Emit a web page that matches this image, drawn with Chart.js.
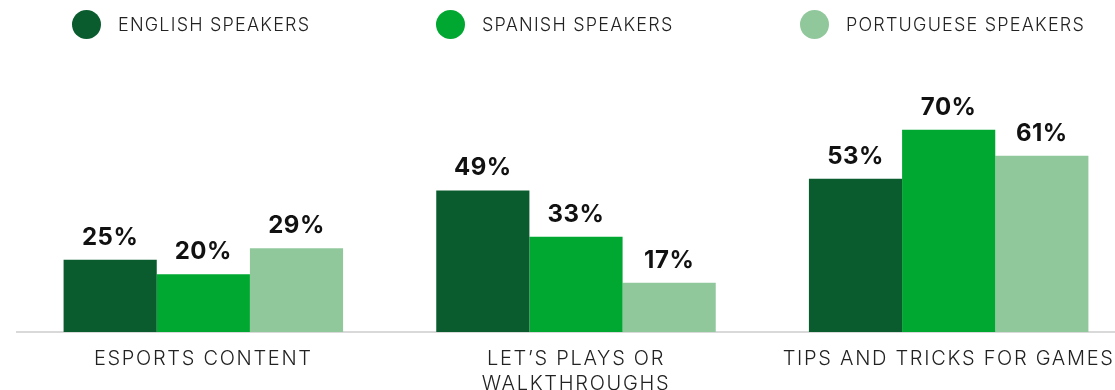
<!DOCTYPE html>
<html>
<head>
<meta charset="utf-8">
<script src="https://cdn.jsdelivr.net/npm/chart.js@4.4.1/dist/chart.umd.min.js"></script>
<style>
  html, body { margin: 0; padding: 0; background: #fff; overflow: hidden; }
  #wrap { position: relative; width: 1135px; height: 390px; }
  #legend { position: absolute; left: 72px; top: 10px; display: flex; z-index: 2; }
  .item { width: 364px; height: 29px; display: flex; align-items: center; }
  .dot { width: 29px; height: 29px; border-radius: 50%; margin-right: 17px; flex: none; }
  .item span { font: 300 18px 'Inter', sans-serif; letter-spacing: 1.2px; color: #222; white-space: nowrap; }
</style>
</head>
<body>
<div id="wrap">
  <div id="legend"></div>
  <canvas id="chart" width="1135" height="390"></canvas>
</div>
<script>
const categories = ['ESPORTS CONTENT', ['LET\u2019S PLAYS OR', 'WALKTHROUGHS'], 'TIPS AND TRICKS FOR GAMES'];
const seriesNames = ['ENGLISH SPEAKERS', 'SPANISH SPEAKERS', 'PORTUGUESE SPEAKERS'];
const english = [25, 49, 53];
const spanish = [20, 33, 70];
const portuguese = [29, 17, 61];
const colors = ['#0a5c2f', '#00a832', '#90c89c'];

const seriesValues = [english, spanish, portuguese];

// legend built from the same series names/colours
const legendBox = document.getElementById('legend');
seriesNames.forEach((name, i) => {
    const item = document.createElement('div');
    item.className = 'item';
    const dot = document.createElement('div');
    dot.className = 'dot';
    dot.style.background = colors[i];
    const label = document.createElement('span');
    label.textContent = name;
    item.appendChild(dot);
    item.appendChild(label);
    legendBox.appendChild(item);
});

// wider tracking for the category labels (the original font is wide)
const tracking = {
    id: 'tracking',
    beforeDraw(chart) {
        chart.ctx.letterSpacing = '1.7px';
    }
};

// percentage labels above each bar
const valueLabels = {
    id: 'valueLabels',
    afterDatasetsDraw(chart) {
        const ctx = chart.ctx;
        ctx.save();
        ctx.letterSpacing = '0.5px';
        ctx.font = 'bold 24px "Inter", sans-serif';
        ctx.fillStyle = '#111';
        ctx.textAlign = 'center';
        ctx.textBaseline = 'alphabetic';
        chart.data.datasets.forEach((ds, i) => {
            chart.getDatasetMeta(i).data.forEach((bar, j) => {
                ctx.fillText(ds.data[j] + '%', bar.x, bar.y - 15);
            });
        });
        ctx.restore();
    }
};

const ctx = document.getElementById('chart').getContext('2d');
new Chart(ctx, {
    type: 'bar',
    data: {
        labels: categories,
        datasets: seriesNames.map((name, i) => ({
            label: name,
            data: seriesValues[i],
            backgroundColor: colors[i],
            borderWidth: 0,
            barPercentage: 1.0,
            categoryPercentage: 0.75
        }))
    },
    options: {
        responsive: false,
        animation: false,
        layout: { padding: { left: 17, top: 43, right: 0, bottom: 0 } },
        plugins: {
            legend: { display: false },
            tooltip: { enabled: false }
        },
        scales: {
            x: {
                grid: { display: false, drawTicks: false },
                border: { display: true, color: '#d9d9d9', width: 2 },
                ticks: {
                    color: '#222',
                    font: { family: 'Inter', size: 20, weight: '300', lineHeight: 1.25 },
                    padding: 14,
                    maxRotation: 0,
                    autoSkip: false
                },
                afterFit: scale => { scale.height = 58; }
            },
            y: {
                display: false,
                min: 0,
                max: 100
            }
        }
    },
    plugins: [tracking, valueLabels]
});
</script>
</body>
</html>
